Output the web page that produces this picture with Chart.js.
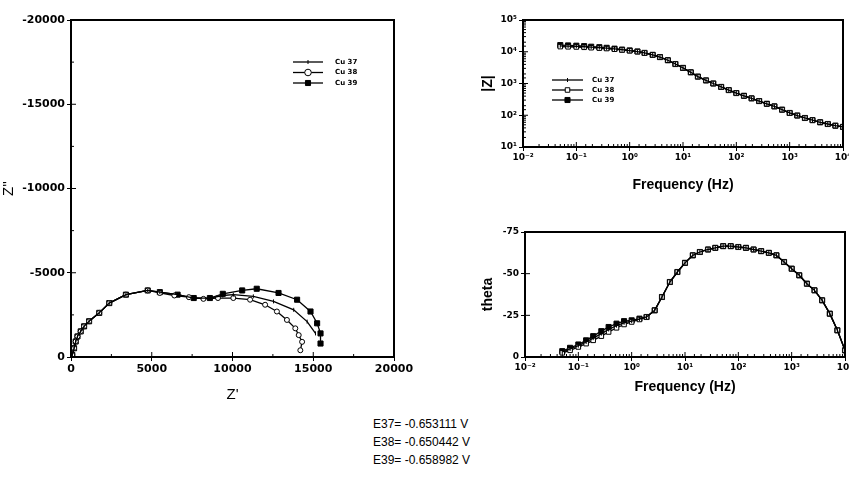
<!DOCTYPE html>
<html>
<head>
<meta charset="utf-8">
<script src="https://cdn.jsdelivr.net/npm/chart.js@4.4.0/dist/chart.umd.min.js"></script>
<style>
html, body { margin: 0; padding: 0; background: #fff; }
body { width: 849px; height: 492px; overflow: hidden; position: relative; }
canvas { position: absolute; }
#nyquist { left: 0; top: 0; }
#bodeMod { left: 480px; top: 0; }
#bodePhase { left: 480px; top: 212px; }
#potentials { position: absolute; left: 373px; top: 415px; font: 12px "Liberation Sans", Arial, sans-serif; line-height: 18px; color: #000; }
</style>
</head>
<body>
<canvas id="nyquist" width="430" height="410"></canvas>
<canvas id="bodeMod" width="380" height="200"></canvas>
<canvas id="bodePhase" width="380" height="190"></canvas>
<div id="potentials">
  <div>E37= -0.653111 V</div>
  <div>E38= -0.650442 V</div>
  <div>E39= -0.658982 V</div>
</div>
<script>
const seriesNames = ['Cu 37', 'Cu 38', 'Cu 39'];

// Nyquist: Z' and Z'' (ohm)
const zre37 = [0, 80, 190, 290, 400, 600, 810, 1120, 1750, 2370, 3400, 4750, 5500, 6600, 7600, 8600, 9400, 10050, 11290, 12540, 13790, 14620, 15140];
const zim37 = [0, -120, -520, -920, -1220, -1520, -1820, -2120, -2620, -3200, -3700, -3950, -3850, -3700, -3500, -3500, -3650, -3700, -3600, -3300, -2800, -2100, -1400];
const zre38 = [0, 80, 190, 290, 400, 600, 810, 1120, 1750, 2370, 3400, 4750, 5500, 6400, 7300, 8200, 9100, 10050, 11090, 12020, 12750, 13370, 13890, 14100, 14310, 14200];
const zim38 = [0, -120, -520, -920, -1220, -1520, -1820, -2120, -2620, -3200, -3700, -3950, -3800, -3650, -3550, -3450, -3500, -3500, -3400, -3100, -2700, -2200, -1700, -1300, -900, -400];
const zre39 = [0, 80, 190, 290, 400, 600, 810, 1120, 1750, 2370, 3400, 4750, 5500, 6600, 7600, 8600, 9400, 10600, 11500, 12850, 14000, 14830, 15240, 15450, 15450];
const zim39 = [0, -120, -520, -920, -1220, -1520, -1820, -2120, -2620, -3200, -3700, -3950, -3850, -3700, -3500, -3500, -3750, -3950, -4050, -3800, -3400, -2700, -2000, -1400, -800];

// Bode: frequency (Hz), |Z| (ohm), theta (deg)
const freq = [0.05, 0.07, 0.1, 0.14, 0.19, 0.27, 0.37, 0.52, 0.72, 1, 1.4, 1.9, 2.7, 3.7, 5.2, 7.2, 10, 14, 19, 27, 37, 52, 72, 100, 139, 193, 268, 373, 518, 720, 1000, 1390, 1930, 2680, 3730, 5180, 7200, 10000];
const mod37 = [15400, 15100, 14800, 14400, 14000, 13500, 13000, 12300, 11600, 10900, 10100, 9200, 8000, 6800, 5400, 4100, 3100, 2250, 1650, 1250, 1000, 780, 620, 500, 410, 340, 280, 230, 190, 150, 118, 98, 82, 70, 60, 53, 47, 43];
const mod38 = [14500, 14300, 14100, 13800, 13400, 13000, 12600, 12000, 11400, 10800, 10100, 9150, 8000, 6800, 5400, 4100, 3100, 2250, 1650, 1250, 1000, 780, 620, 500, 410, 340, 280, 230, 190, 150, 118, 98, 82, 70, 60, 53, 47, 43];
const mod39 = [16200, 15800, 15500, 15000, 14400, 13900, 13300, 12500, 11700, 11000, 10200, 9200, 8000, 6800, 5400, 4100, 3100, 2250, 1650, 1250, 1000, 780, 620, 500, 410, 340, 280, 230, 190, 150, 118, 98, 82, 70, 60, 53, 47, 43];
const theta37 = [-3, -4.8, -6.8, -9, -11.3, -14, -16.5, -18.8, -20.5, -21.5, -22.8, -24, -28, -36, -45, -51, -56.5, -61, -63, -64.5, -65.5, -66.5, -66.5, -66, -65.5, -64.5, -63.5, -62.5, -61, -57, -53, -49, -44, -40, -34, -26, -16, -4];
const theta38 = [-2.5, -4, -6, -8, -10, -12.5, -15, -17.5, -19.5, -21, -22.5, -24, -28, -36, -45, -51, -56.5, -61, -63, -64.5, -65.5, -66.5, -66.5, -66, -65.5, -64.5, -63.5, -62.5, -61, -57, -53, -49, -44, -40, -34, -26, -16, -4];
const theta39 = [-3.5, -5.5, -7.5, -10, -12.5, -15.5, -18, -20, -21.5, -22, -23, -24, -28, -36, -45, -51, -56.5, -61, -63, -64.5, -65.5, -66.5, -66.5, -66, -65.5, -64.5, -63.5, -62.5, -61, -57, -53, -49, -44, -40, -34, -26, -16, -4];

const toPoints = (xs, ys) => xs.map((x, i) => ({ x: x, y: ys[i] }));

const supDigits = { '-': '⁻', '0': '⁰', '1': '¹', '2': '²', '3': '³', '4': '⁴', '5': '⁵' };
const decadeLabel = (v) => {
    const e = Math.log10(v);
    if (Math.abs(e - Math.round(e)) > 1e-6) return '';
    return '10' + String(Math.round(e)).split('').map(c => supDigits[c]).join('');
};

// marker style per series; the middle one differs between the two panels
const markerStyle = (i, openShape) => {
    if (i === 0) return { pointStyle: 'line', pointRotation: 90, pointRadius: 2, pointBackgroundColor: '#000' };
    if (i === 1) return { pointStyle: openShape, pointRadius: openShape === 'circle' ? 2.5 : 3.2, pointBackgroundColor: '#fff' };
    return { pointStyle: 'rect', pointRadius: 3.6, pointBackgroundColor: '#000' };
};

const makeDataset = (i, points, openShape) => Object.assign({
    label: seriesNames[i],
    data: points,
    showLine: true,
    borderColor: '#000',
    borderWidth: 1.3,
    pointBorderColor: '#000',
    pointBorderWidth: 1
}, markerStyle(i, openShape));

const drawMark = (ctx, ds, x, y) => {
    ctx.beginPath();
    ctx.fillStyle = ds.pointBackgroundColor;
    if (ds.pointStyle === 'line') {
        ctx.moveTo(x, y - 2); ctx.lineTo(x, y + 2); ctx.stroke();
        return;
    }
    if (ds.pointStyle === 'circle') {
        ctx.arc(x, y, ds.pointRadius + 0.8, 0, Math.PI * 2);
    } else {
        const s = ds.pointRadius * Math.SQRT1_2;
        ctx.rect(x - s, y - s, 2 * s, 2 * s);
    }
    ctx.fill(); ctx.stroke();
};

const framePlugin = {
    id: 'frame',
    afterDraw(chart) {
        const a = chart.chartArea, ctx = chart.ctx;
        ctx.save();
        ctx.strokeStyle = '#000';
        ctx.lineWidth = 2;
        ctx.strokeRect(a.left, a.top, a.right - a.left, a.bottom - a.top);
        ctx.lineWidth = 1;
        Object.values(chart.scales).forEach(s => {
            s.ticks.forEach((t, i) => {
                const p = s.getPixelForTick(i);
                const len = t.label === '' ? 3 : 5;
                ctx.beginPath();
                if (s.isHorizontal()) { ctx.moveTo(p, a.bottom); ctx.lineTo(p, a.bottom - len); }
                else { ctx.moveTo(a.left, p); ctx.lineTo(a.left + len, p); }
                ctx.stroke();
            });
        });
        const lg = chart.options.plugins.insetLegend;
        if (lg) {
            ctx.font = 'bold 7px "DejaVu Sans", sans-serif';
            ctx.textBaseline = 'middle';
            chart.data.datasets.forEach((ds, i) => {
                const x0 = a.left + lg.dx, y = a.top + lg.dy + i * lg.rowH;
                ctx.strokeStyle = '#000';
                ctx.lineWidth = 1.3;
                ctx.beginPath(); ctx.moveTo(x0, y); ctx.lineTo(x0 + lg.lineLen, y); ctx.stroke();
                ctx.lineWidth = 1;
                drawMark(ctx, ds, x0 + lg.lineLen / 2, y);
                ctx.fillStyle = '#000';
                ctx.fillText(ds.label, x0 + lg.lineLen + lg.gap, y);
            });
        }
        ctx.restore();
    }
};

const tickGrid = {
    drawOnChartArea: false,
    drawTicks: true,
    tickLength: 4,
    color: c => (c.tick && c.tick.label !== '') ? '#000' : 'rgba(0,0,0,0)'
};

const titleFont = { family: '"Liberation Sans", Arial, sans-serif', size: 14, weight: 'bold' };
const smallTicks = { family: '"DejaVu Sans", sans-serif', size: 9, weight: 'bold' };

Chart.defaults.color = '#000';
Chart.defaults.animation = false;

new Chart(document.getElementById('nyquist'), {
    type: 'scatter',
    data: {
        datasets: [
            makeDataset(0, toPoints(zre37, zim37), 'circle'),
            makeDataset(1, toPoints(zre38, zim38), 'circle'),
            makeDataset(2, toPoints(zre39, zim39), 'circle')
        ]
    },
    options: {
        responsive: false,
        devicePixelRatio: 1,
        layout: { padding: { top: 20, right: 36, left: 0, bottom: 0 } },
        plugins: {
            legend: { display: false },
            tooltip: { enabled: false },
            insetLegend: { dx: 222, dy: 42, rowH: 10.5, lineLen: 30, gap: 12 }
        },
        scales: {
            x: {
                type: 'linear', min: 0, max: 20000,
                ticks: { stepSize: 2500, maxRotation: 0, autoSkip: false, padding: 2,
                    font: { family: '"DejaVu Sans", sans-serif', size: 11, weight: 'bold' },
                    callback: v => v % 5000 === 0 ? String(v) : '' },
                grid: tickGrid, border: { display: false },
                title: { display: true, text: "Z'", font: { family: '"Liberation Sans", Arial, sans-serif', size: 15 }, padding: { top: 4, bottom: 6 } },
                afterFit: s => { s.height = 53; }
            },
            y: {
                type: 'linear', min: -20000, max: 0, reverse: true,
                ticks: { stepSize: 2500, autoSkip: false, padding: 2,
                    font: { family: '"DejaVu Sans", sans-serif', size: 11, weight: 'bold' },
                    callback: v => v % 5000 === 0 ? String(v) : '' },
                grid: tickGrid, border: { display: false },
                title: { display: true, text: "Z''", font: { family: '"Liberation Sans", Arial, sans-serif', size: 15 }, padding: { top: 0, bottom: 0 } },
                afterFit: s => { s.width = 71; }
            }
        }
    },
    plugins: [framePlugin]
});

const freqAxis = (height) => ({
    type: 'logarithmic', min: 0.01, max: 10000,
    ticks: { autoSkip: false, maxRotation: 0, padding: 1, font: smallTicks, callback: v => decadeLabel(v) },
    grid: tickGrid, border: { display: false },
    title: { display: true, text: 'Frequency (Hz)', font: titleFont, padding: { top: 2, bottom: 6 } },
    afterFit: s => { s.height = height; }
});

new Chart(document.getElementById('bodeMod'), {
    type: 'scatter',
    data: {
        datasets: [
            makeDataset(0, toPoints(freq, mod37), 'rect'),
            makeDataset(1, toPoints(freq, mod38), 'rect'),
            makeDataset(2, toPoints(freq, mod39), 'rect')
        ]
    },
    options: {
        responsive: false,
        devicePixelRatio: 1,
        layout: { padding: { top: 20, right: 17, left: 0, bottom: 0 } },
        plugins: {
            legend: { display: false },
            tooltip: { enabled: false },
            insetLegend: { dx: 29, dy: 60, rowH: 10, lineLen: 31, gap: 9 }
        },
        scales: {
            x: freqAxis(53),
            y: {
                type: 'logarithmic', min: 10, max: 100000,
                ticks: { autoSkip: false, padding: 2, font: smallTicks, callback: v => decadeLabel(v) },
                grid: tickGrid, border: { display: false },
                title: { display: true, text: '|Z|', font: titleFont, padding: { top: 0, bottom: 0 } },
                afterFit: s => { s.width = 43; }
            }
        }
    },
    plugins: [framePlugin]
});

new Chart(document.getElementById('bodePhase'), {
    type: 'scatter',
    data: {
        datasets: [
            makeDataset(0, toPoints(freq, theta37), 'rect'),
            makeDataset(1, toPoints(freq, theta38), 'rect'),
            makeDataset(2, toPoints(freq, theta39), 'rect')
        ]
    },
    options: {
        responsive: false,
        devicePixelRatio: 1,
        layout: { padding: { top: 20, right: 15, left: 0, bottom: 0 } },
        plugins: { legend: { display: false }, tooltip: { enabled: false } },
        scales: {
            x: freqAxis(45),
            y: {
                type: 'linear', min: -75, max: 0, reverse: true,
                ticks: { stepSize: 25, autoSkip: false, padding: 2, font: smallTicks },
                grid: tickGrid, border: { display: false },
                title: { display: true, text: 'theta', font: titleFont, padding: { top: 0, bottom: 0 } },
                afterFit: s => { s.width = 45; }
            }
        }
    },
    plugins: [framePlugin]
});
</script>
</body>
</html>
